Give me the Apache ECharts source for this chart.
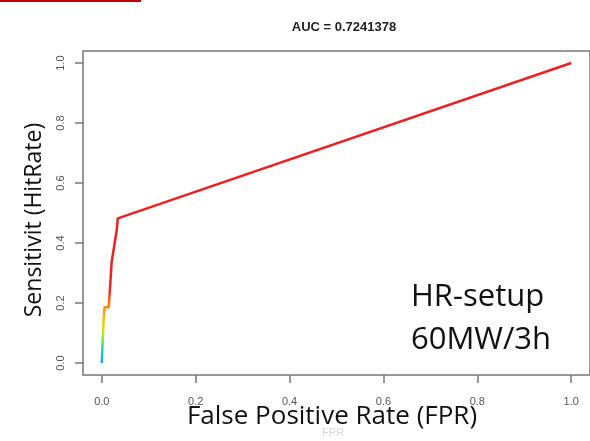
<!DOCTYPE html>
<html>
<head>
<meta charset="utf-8">
<script src="https://cdn.jsdelivr.net/npm/echarts@6/dist/echarts.min.js"></script>
<style>
html,body{margin:0;padding:0;background:#fff;}
#main{width:590px;height:441px;}
</style>
</head>
<body>
<div id="main"></div>
<script>
const titleText = 'AUC = 0.7241378';
const fpr = [0, 0.002, 0.004, 0.006, 0.015, 0.021, 0.032, 0.034, 1];
const tpr = [0, 0.08, 0.146, 0.186, 0.186, 0.336, 0.445, 0.482, 1];
const tickValues = [0, 0.2, 0.4, 0.6, 0.8, 1.0];
const tickLabels = ['0.0', '0.2', '0.4', '0.6', '0.8', '1.0'];
const xLabel = 'False Positive Rate (FPR)';
const yLabel = 'Sensitivit (HitRate)';
const noteLines = ['HR-setup', '60MW/3h'];

const AX_MIN = -0.04, AX_MAX = 1.04;
const chart = echarts.init(document.getElementById('main'), null, {renderer: 'canvas'});
const points = fpr.map((x, i) => [x, tpr[i]]);
const labelFmt = v => {
  const idx = tickValues.findIndex(t => Math.abs(t - v) < 1e-9);
  return idx >= 0 ? tickLabels[idx] : '';
};
const red = '#ee2020';
const rampColors = ['#2aa0ff', '#18e090', '#b8f010', '#ffc000', '#ff7010'];
while (rampColors.length < 21) rampColors.push(red);
// main axes sit on the zero of a hidden helper axis whose zero is the box edge
const mainAxis = {
  type: 'value', gridIndex: 0, min: AX_MIN, max: AX_MAX,
  axisLine: {show: false, onZeroAxisIndex: 1},
  splitLine: {show: false},
  axisTick: {show: true, customValues: tickValues, length: 8, lineStyle: {color: '#777', width: 1.5}}
};
const helperAxis = {type: 'value', gridIndex: 0, min: 0, max: 1, show: false};
chart.setOption({
  animation: false,
  backgroundColor: '#fff',
  title: {
    text: titleText,
    left: 339, top: 16, textAlign: 'center',
    textStyle: {fontFamily: 'Liberation Sans', fontSize: 13, fontWeight: 'bold', color: '#222'}
  },
  grid: {left: 83, right: -6, top: 51, bottom: 66, show: true, borderColor: '#777', borderWidth: 1.5},
  xAxis: [
    Object.assign({}, mainAxis, {
      position: 'bottom',
      axisLabel: {customValues: tickValues, formatter: labelFmt, margin: 21, color: '#555', fontFamily: 'Liberation Sans', fontSize: 11}
    }),
    helperAxis
  ],
  yAxis: [
    Object.assign({}, mainAxis, {
      position: 'left',
      axisLabel: {customValues: tickValues, formatter: labelFmt, rotate: 90, margin: 17, color: '#555', fontFamily: 'Liberation Sans', fontSize: 11}
    }),
    helperAxis
  ],
  visualMap: {
    show: false, type: 'continuous', dimension: 1, min: 0, max: 1, seriesIndex: 0,
    inRange: {color: rampColors}
  },
  series: [{
    type: 'line', xAxisIndex: 0, yAxisIndex: 0, data: points, showSymbol: false, symbol: 'none',
    lineStyle: {width: 2.5}
  }],
  graphic: [
    {type: 'rect', left: 0, top: 0, shape: {width: 141, height: 2}, style: {fill: '#c00000'}},
    {type: 'text', x: 333, y: 433, style: {text: 'FPR', fill: '#d8d8d8', font: '11px Liberation Sans', align: 'center', verticalAlign: 'middle'}},
    {type: 'text', x: 332, y: 417, style: {text: xLabel, fill: '#111', font: '26px "Open Sans"', align: 'center', verticalAlign: 'middle'}},
    {type: 'text', x: 34, y: 220, rotation: Math.PI / 2, style: {text: yLabel, fill: '#111', font: '23px "Open Sans"', align: 'center', verticalAlign: 'middle'}},
    {type: 'text', x: 411, y: 297, style: {text: noteLines[0], fill: '#111', font: '31px "Open Sans"', align: 'left', verticalAlign: 'middle'}},
    {type: 'text', x: 411, y: 340, style: {text: noteLines[1], fill: '#111', font: '31px "Open Sans"', align: 'left', verticalAlign: 'middle'}}
  ]
});
</script>
</body>
</html>
